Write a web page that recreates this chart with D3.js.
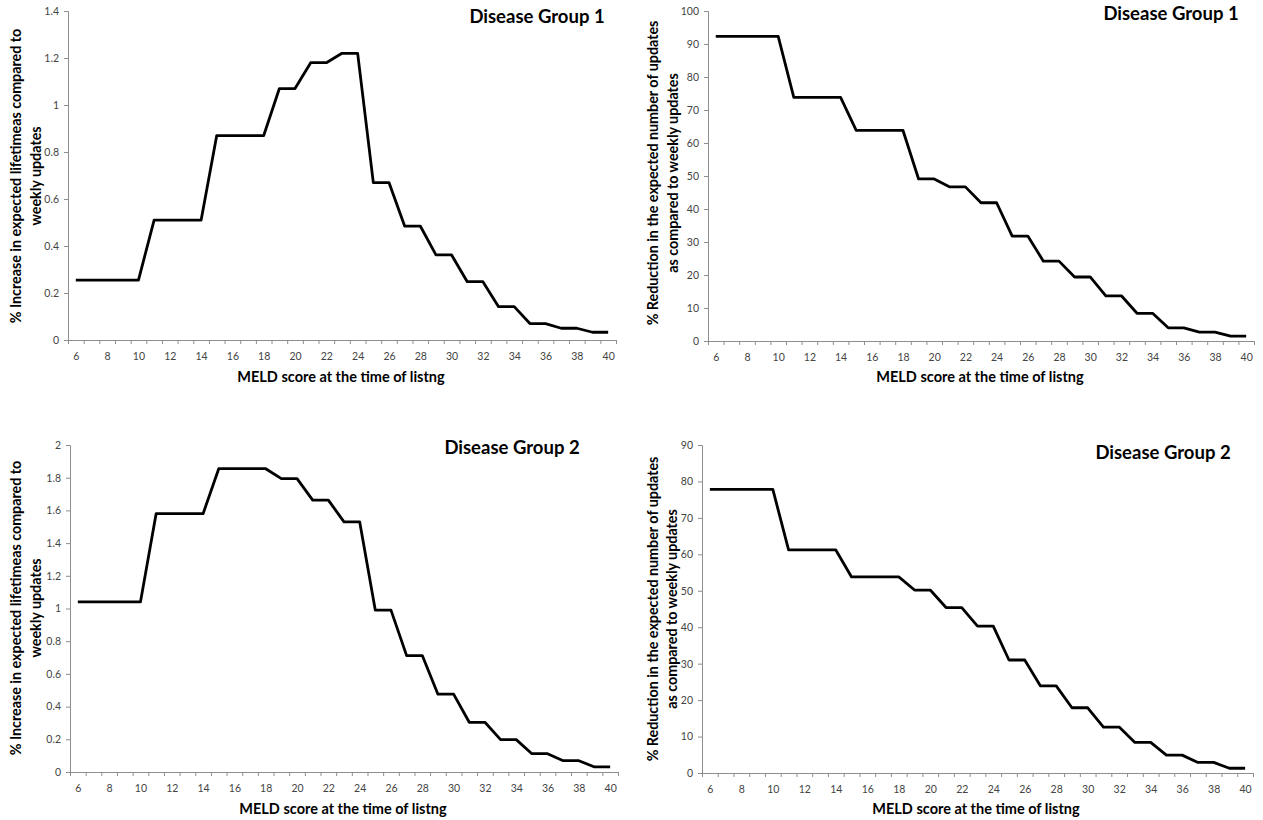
<!DOCTYPE html>
<html>
<head>
<meta charset="utf-8">
<script src="https://cdn.jsdelivr.net/npm/d3@7"></script>
<style>
  body { margin: 0; background: #fff; }
  svg { display: block; }
  .tick text { font-family: Lato, "Open Sans", sans-serif; font-size: 10.5px; fill: #444; }
  .bold { font-family: Lato, "Open Sans", sans-serif; font-weight: bold; fill: #000; }
</style>
</head>
<body>
<div id="chart"></div>
<script>
// MELD categories (x axis)
const meld = [6, 7, 8, 9, 10, 11, 12, 13, 14, 15, 16, 17, 18, 19, 20, 21, 22, 23,
  24, 25, 26, 27, 28, 29, 30, 31, 32, 33, 34, 35, 36, 37, 38, 39, 40];
const meldLabels = [6, 8, 10, 12, 14, 16, 18, 20, 22, 24, 26, 28, 30, 32, 34, 36, 38, 40];

// % increase in expected lifetime, disease group 1
const lifeGroup1 = [0.255, 0.255, 0.255, 0.255, 0.255, 0.51, 0.51, 0.51, 0.51,
  0.87, 0.87, 0.87, 0.87, 1.07, 1.07, 1.18, 1.18, 1.22, 1.22, 0.67, 0.67,
  0.485, 0.485, 0.362, 0.362, 0.248, 0.248, 0.142, 0.142, 0.07, 0.07, 0.05, 0.05, 0.033, 0.033];
// % reduction in number of updates, disease group 1
const updGroup1 = [92.3, 92.3, 92.3, 92.3, 92.3, 73.8, 73.8, 73.8, 73.8,
  63.8, 63.8, 63.8, 63.8, 49.1, 49.1, 46.7, 46.7, 41.9, 41.9, 31.8, 31.8,
  24.2, 24.2, 19.4, 19.4, 13.7, 13.7, 8.4, 8.4, 4.0, 4.0, 2.7, 2.7, 1.5, 1.5];
// % increase in expected lifetime, disease group 2
const lifeGroup2 = [1.04, 1.04, 1.04, 1.04, 1.04, 1.58, 1.58, 1.58, 1.58,
  1.855, 1.855, 1.855, 1.855, 1.794, 1.794, 1.663, 1.663, 1.53, 1.53, 0.99, 0.99,
  0.712, 0.712, 0.476, 0.476, 0.304, 0.304, 0.198, 0.198, 0.112, 0.112, 0.069, 0.069, 0.031, 0.031];
// % reduction in number of updates, disease group 2
const updGroup2 = [77.8, 77.8, 77.8, 77.8, 77.8, 61.2, 61.2, 61.2, 61.2,
  53.8, 53.8, 53.8, 53.8, 50.2, 50.2, 45.4, 45.4, 40.3, 40.3, 31.0, 31.0,
  23.9, 23.9, 17.9, 17.9, 12.6, 12.6, 8.4, 8.4, 4.9, 4.9, 2.9, 2.9, 1.3, 1.3];

const lifeLabel = ["% Increase in expected lifetimeas compared to", "weekly updates"];
const updLabel = ["% Reduction in the expected number of updates", "as compared to weekly updates"];
const xLabel = "MELD score at the time of listng";

// one entry per panel, with where it sits on the page
const panels = [
  { values: lifeGroup1, yMax: 1.4, yStep: 0.2, title: "Disease Group 1", ylab: lifeLabel,
    x0: 68, x1: 616, yTop: 11, yBot: 340, tx: 537, ty: 16, lx: 341, ly: 376, yx: [15, 35], yc: 176 },
  { values: updGroup1, yMax: 100, yStep: 10, title: "Disease Group 1", ylab: updLabel,
    x0: 708, x1: 1254, yTop: 11, yBot: 341, tx: 1171, ty: 13, lx: 980, ly: 376, yx: [652, 672], yc: 173 },
  { values: lifeGroup2, yMax: 2, yStep: 0.2, title: "Disease Group 2", ylab: lifeLabel,
    x0: 70, x1: 618, yTop: 445, yBot: 772, tx: 512, ty: 447, lx: 343, ly: 808, yx: [15, 35], yc: 608 },
  { values: updGroup2, yMax: 90, yStep: 10, title: "Disease Group 2", ylab: updLabel,
    x0: 702, x1: 1253, yTop: 445, yBot: 773, tx: 1163, ty: 452, lx: 976, ly: 808, yx: [652, 671], yc: 609 }
];

const svg = d3.select("#chart").append("svg")
  .attr("width", 1263)
  .attr("height", 820);

panels.forEach(p => {
  const g = svg.append("g");

  const x = d3.scaleLinear().domain([meld[0] - 0.5, meld[meld.length - 1] + 0.5]).range([p.x0, p.x1]);
  const y = d3.scaleLinear().domain([0, p.yMax]).range([p.yBot, p.yTop]);

  // y axis
  const yTicks = d3.range(0, p.yMax + p.yStep / 2, p.yStep);
  const yAxis = g.append("g")
    .attr("transform", `translate(${p.x0},0)`)
    .call(d3.axisLeft(y).tickValues(yTicks).tickSize(4).tickPadding(5)
      .tickFormat(d => String(+d.toFixed(1))));

  // x axis: ticks on category boundaries
  const bounds = meld.map(m => m - 0.5).concat([meld[meld.length - 1] + 0.5]);
  const xAxis = g.append("g")
    .attr("transform", `translate(0,${p.yBot})`)
    .call(d3.axisBottom(x).tickValues(bounds).tickSize(4).tickFormat(""));

  // x labels on category centres
  const xLab = g.append("g")
    .attr("transform", `translate(0,${p.yBot})`)
    .call(d3.axisBottom(x).tickValues(meldLabels).tickSize(0).tickPadding(13));
  xLab.select(".domain").remove();

  [yAxis, xAxis].forEach(a => {
    a.select(".domain").attr("stroke", "#8e8e8e");
    a.selectAll(".tick line").attr("stroke", "#8e8e8e");
  });

  // step line
  const line = d3.line()
    .x((d, i) => x(meld[i]))
    .y(d => y(d));

  g.append("path")
    .datum(p.values)
    .attr("fill", "none")
    .attr("stroke", "#000")
    .attr("stroke-width", 2.8)
    .attr("stroke-linejoin", "round")
    .attr("d", line);

  // title
  g.append("text")
    .attr("class", "bold")
    .attr("x", p.tx)
    .attr("y", p.ty)
    .attr("text-anchor", "middle")
    .attr("dominant-baseline", "central")
    .style("font-size", "18.5px")
    .text(p.title);

  // x axis title
  g.append("text")
    .attr("class", "bold")
    .attr("x", p.lx)
    .attr("y", p.ly)
    .attr("text-anchor", "middle")
    .attr("dominant-baseline", "central")
    .style("font-size", "14.5px")
    .text(xLabel);

  // y axis title, two lines
  p.ylab.forEach((t, i) => {
    g.append("text")
      .attr("class", "bold")
      .attr("transform", `translate(${p.yx[i]},${p.yc}) rotate(-90)`)
      .attr("text-anchor", "middle")
      .attr("dominant-baseline", "central")
      .style("font-size", "14.3px")
      .text(t);
  });
});
</script>
</body>
</html>
